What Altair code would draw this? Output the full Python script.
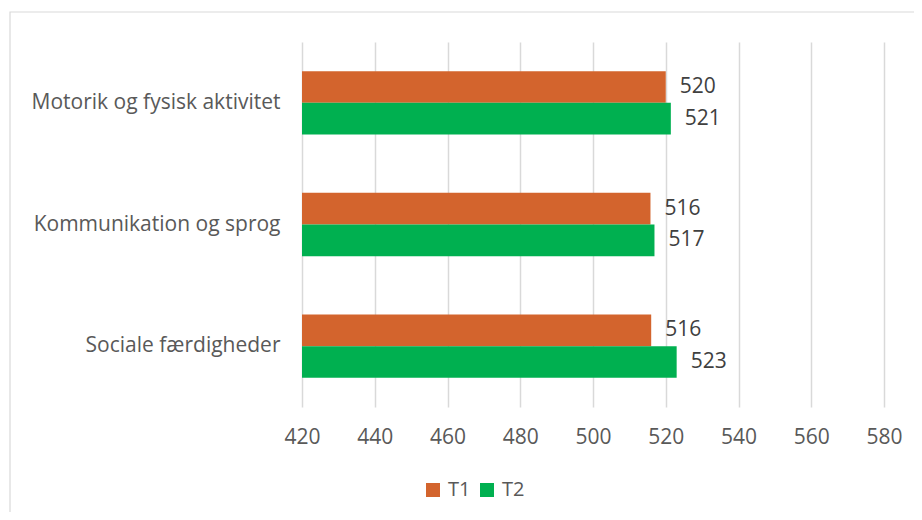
import altair as alt
import pandas as pd

categories = ["Motorik og fysisk aktivitet", "Kommunikation og sprog", "Sociale færdigheder"]
series = ["T1", "T2"]
t1_values = [520.0, 515.8, 516.0]
t2_values = [521.4, 516.9, 523.0]
x_ticks = [420, 440, 460, 480, 500, 520, 540, 560, 580]
colors = ["#D3642D", "#00B050"]

rows = []
for c, a, b in zip(categories, t1_values, t2_values):
    rows.append({"Kategori": c, "Tid": "T1", "Værdi": a})
    rows.append({"Kategori": c, "Tid": "T2", "Værdi": b})
df = pd.DataFrame(rows)

FONT = "Open Sans"
FS = 21

base = alt.Chart(df).encode(
    y=alt.Y("Kategori:N", sort=categories, title=None,
            scale=alt.Scale(paddingInner=0.48, paddingOuter=0.24),
            axis=alt.Axis(labelFontSize=21, labelColor="#595959", labelFont=FONT,
                          labelPadding=22, ticks=False, domain=False, labelLimit=400)),
    yOffset=alt.YOffset("Tid:N", sort=series),
)

bars = base.mark_bar(clip=True).encode(
    x=alt.X("Værdi:Q", title=None,
            scale=alt.Scale(domain=[420, 580], zero=False, nice=False),
            axis=alt.Axis(values=x_ticks, labelFontSize=FS, labelColor="#595959", labelFont=FONT,
                          labelPadding=19, labelFlush=False, ticks=False, domain=False, grid=True,
                          gridColor="#D9D9D9", gridWidth=1.5)),
    color=alt.Color("Tid:N", sort=series, scale=alt.Scale(domain=series, range=colors),
                    legend=alt.Legend(title=None, orient="none", legendX=121, legendY=438,
                                      direction="horizontal", symbolType="square",
                                      symbolSize=196, symbolStrokeWidth=0,
                                      labelFontSize=20, labelColor="#595959", labelFont=FONT,
                                      labelOffset=5, columnPadding=6)),
)

labels = base.mark_text(align="left", baseline="middle", dx=14, fontSize=FS,
                        color="#404040", font=FONT).encode(
    x="Værdi:Q",
    text=alt.Text("Værdi:Q", format=".0f"),
)

border = alt.Chart(alt.Data(values=[{"a": 1}])).mark_rect(
    fill=None, stroke="#D9D9D9", strokeWidth=1.2
).encode(
    x=alt.value(-292), x2=alt.value(618), y=alt.value(-30), y2=alt.value(478)
)

chart = alt.layer(border, bars, labels).properties(
    width=582, height=365,
    background="white",
    autosize=alt.AutoSizeParams(type="none"),
    padding={"left": 294, "top": 34, "right": 30, "bottom": 105},
).configure_view(stroke=None)

chart.save("out.html", embed_options={"renderer": "svg", "actions": False})
